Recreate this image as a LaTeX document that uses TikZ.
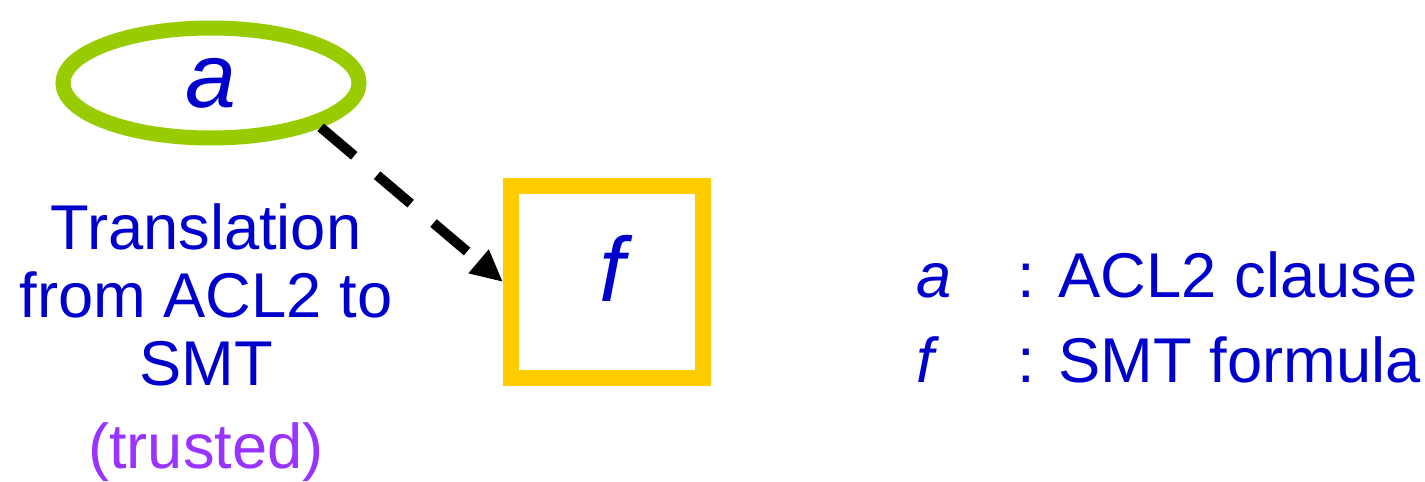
\documentclass[tikz,border=0pt]{standalone}
\usepackage{fontspec}
\setmainfont{Liberation Sans}
\usetikzlibrary{shapes.geometric,arrows.meta}
\definecolor{aclblue}{HTML}{0000CC}
\definecolor{acllime}{HTML}{99CC00}
\definecolor{smtgold}{HTML}{FFCC00}
\definecolor{trustpurple}{HTML}{9933FF}
\tikzset{
    txt/.style={text=aclblue,font=\fontsize{18}{19.4}\selectfont,inner sep=0pt},
    sym/.style={text=aclblue,font=\fontsize{26}{28}\selectfont\itshape,inner sep=0pt},
    dasharrow/.style={line width=0.1cm,dash pattern=on 0.44cm off 0.3cm,-{Triangle[length=0.32cm,width=0.29cm]}}
}
\begin{document}
\begin{tikzpicture}
            \useasboundingbox (0,0) rectangle (14.25,-4.82);
            \node[ellipse,draw=acllime,line width=0.15cm,minimum width=2.96cm,minimum height=1.1cm,inner sep=0pt] (aclnode) at (2.11,-0.83) {};
            \node[sym] (asym) at (aclnode.center) {a};
            \node[rectangle,draw=smtgold,line width=0.16cm,minimum size=1.92cm,inner sep=0pt] (smtnode) at (6.07,-2.82) {};
            \node[sym] (fsym) at ([xshift=0.05cm,yshift=0.14cm]smtnode.center) {f};
            \draw[dasharrow] (aclnode.-22) -- (smtnode.west);
            \node[txt,align=center,anchor=north] (transl) at (2.06,-2.03) {Translation\\from ACL2 to\\SMT};
            \node[txt,text=trustpurple,anchor=base] (trusted) at (2.06,-4.68) {(trusted)};
            \node[txt,anchor=base west,font=\fontsize{18}{19.4}\selectfont\itshape] (keya) at (9.16,-2.98) {a};
            \node[txt,anchor=base west] (desca) at (10.17,-2.98) {: ACL2 clause};
            \node[txt,anchor=base west,font=\fontsize{18}{19.4}\selectfont\itshape] (keyf) at (9.16,-3.82) {f};
            \node[txt,anchor=base west] (descf) at (10.17,-3.82) {: SMT formula};
\end{tikzpicture}
\end{document}
